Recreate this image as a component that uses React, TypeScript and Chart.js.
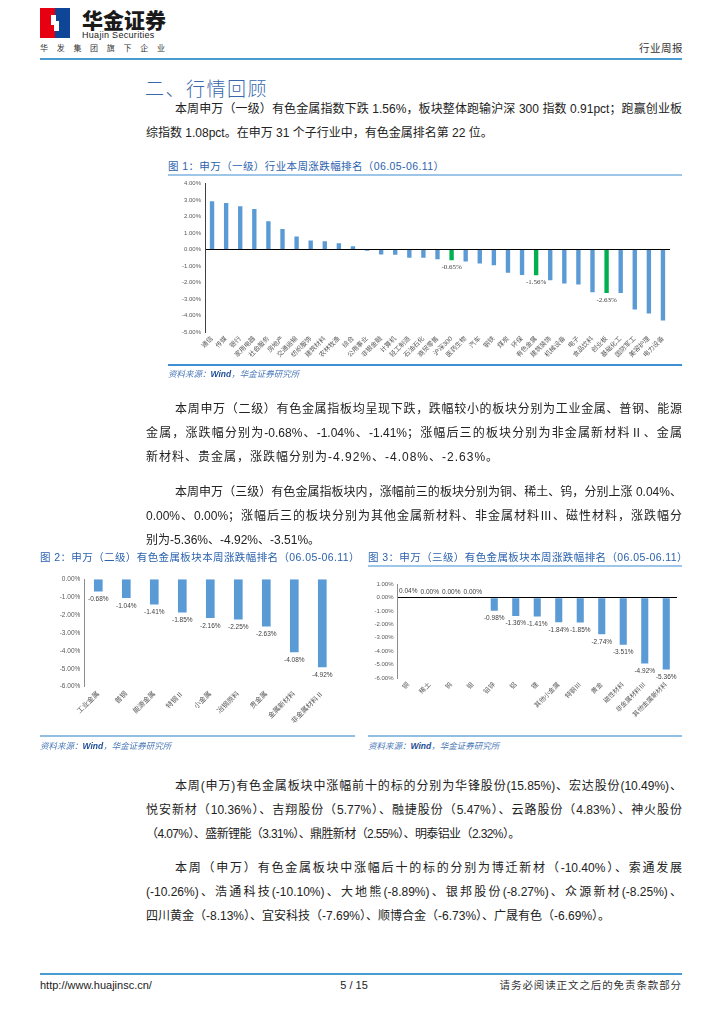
import React, { useEffect, useRef } from "react";
import { Chart, registerables } from "chart.js";

Chart.register(...registerables);

const SANS = '"Liberation Sans", Arial, "Noto Sans CJK SC", sans-serif';
const SERIF = '"Liberation Serif", "Noto Sans CJK SC", serif';

// ---------- Figure 1: 申万（一级）行业本周涨跌幅排名 ----------
const fig1Categories = [
  "通信", "传媒", "银行", "家用电器", "社会服务", "房地产", "交通运输", "纺织服饰",
  "建筑材料", "农林牧渔", "综合", "公用事业", "非银金融", "计算机", "轻工制造", "石油石化",
  "商贸零售", "沪深300", "医药生物", "汽车", "钢铁", "煤炭", "环保", "有色金属",
  "建筑装饰", "机械设备", "电子", "食品饮料", "创业板", "基础化工", "国防军工", "美容护理",
  "电力设备",
];
const fig1Values = [
  2.93, 2.83, 2.63, 2.46, 1.72, 1.25, 0.79, 0.55,
  0.5, 0.38, 0.2, -0.08, -0.3, -0.32, -0.5, -0.5,
  -0.59, -0.65, -0.73, -0.85, -0.95, -1.41, -1.55, -1.56,
  -1.86, -2.06, -2.12, -2.59, -2.63, -2.64, -3.64, -3.88,
  -4.3,
];
const fig1Highlighted = ["沪深300", "有色金属", "创业板"];
const fig1YMin = -5;
const fig1YMax = 4;

// ---------- Figure 2: 申万（二级）有色金属板块本周涨跌幅排名 ----------
const fig2Categories = [
  "工业金属", "普钢", "能源金属", "特钢Ⅱ", "小金属", "冶钢原料", "贵金属", "金属新材料", "非金属材料Ⅱ",
];
const fig2Values = [-0.68, -1.04, -1.41, -1.85, -2.16, -2.25, -2.63, -4.08, -4.92];
const fig2YMin = -6;
const fig2YMax = 0;

// ---------- Figure 3: 申万（三级）有色金属板块本周涨跌幅排名 ----------
const fig3Categories = [
  "铜", "稀土", "钨", "钼", "铅锌", "铝", "锂", "其他小金属", "特钢Ⅲ", "黄金", "磁性材料",
  "非金属材料Ⅲ", "其他金属新材料",
];
const fig3Values = [0.04, 0.0, 0.0, 0.0, -0.98, -1.36, -1.41, -1.84, -1.85, -2.74, -3.51, -4.92, -5.36];
const fig3YMin = -6;
const fig3YMax = 1;

const BLUE = "#5b9bd5";
const GREEN = "#00b050";

const pct = (v: number) => Number(v).toFixed(2) + "%";

type BarProps = {
  left: number;
  top: number;
  width: number;
  height: number;
  categories: string[];
  values: number[];
  colors: string[];
  yMin: number;
  yMax: number;
  yWidth: number;
  xHeight: number;
  padTop: number;
  padRight: number;
  barPct: number;
  yTickSize: number;
  xTickSize: number;
  axisColor: string;
  zeroLine: boolean;
  showLabel: (i: number) => boolean;
  labelFont: string;
  below: number;
  above: number;
};

function BarChart(p: BarProps) {
  const ref = useRef<HTMLCanvasElement | null>(null);
  useEffect(() => {
    if (!ref.current) return;
    const labelPlugin = {
      id: "valueLabels",
      afterDatasetsDraw(chart: any) {
        const ctx = chart.ctx;
        const meta = chart.getDatasetMeta(0);
        const data = chart.data.datasets[0].data as number[];
        ctx.save();
        ctx.font = p.labelFont;
        ctx.fillStyle = "#404040";
        ctx.textAlign = "center";
        ctx.textBaseline = "middle";
        meta.data.forEach((bar: any, i: number) => {
          if (!p.showLabel(i)) return;
          const v = data[i];
          const { x, y } = bar.getProps(["x", "y"], true);
          ctx.fillText(pct(v), x, v < 0 ? y + p.below : y - p.above);
        });
        ctx.restore();
      },
    };
    const chart = new Chart(ref.current, {
      type: "bar",
      data: {
        labels: p.categories,
        datasets: [
          {
            data: p.values,
            backgroundColor: p.colors,
            barPercentage: p.barPct,
            categoryPercentage: 1,
          },
        ],
      },
      options: {
        animation: false,
        responsive: true,
        maintainAspectRatio: false,
        layout: { padding: { top: p.padTop, right: p.padRight, left: 0, bottom: 0 } },
        plugins: { legend: { display: false }, tooltip: { enabled: false }, title: { display: false } },
        scales: {
          x: {
            ticks: {
              autoSkip: false,
              maxRotation: 45,
              minRotation: 45,
              font: { size: p.xTickSize, family: SANS },
              color: "#595959",
              padding: 3,
            },
            grid: { display: false, drawTicks: false },
            border: { display: false },
            afterFit: (s: any) => {
              s.height = p.xHeight;
            },
          },
          y: {
            min: p.yMin,
            max: p.yMax,
            ticks: {
              stepSize: 1,
              callback: (v: any) => pct(v),
              font: { size: p.yTickSize, family: SANS },
              color: "#595959",
              padding: 4,
            },
            grid: {
              display: p.zeroLine,
              drawTicks: false,
              lineWidth: 1,
              color: (c: any) => (c.tick && c.tick.value === 0 ? "#000000" : "rgba(0,0,0,0)"),
            },
            border: { display: true, color: p.axisColor, width: 1 },
            afterFit: (s: any) => {
              s.width = p.yWidth;
            },
          },
        },
      } as any,
      plugins: [labelPlugin],
    });
    return () => chart.destroy();
  }, []);
  return (
    <div style={{ position: "absolute", left: p.left, top: p.top, width: p.width, height: p.height }}>
      <canvas ref={ref} />
    </div>
  );
}

const abs = (left: number, top: number, extra: React.CSSProperties = {}): React.CSSProperties => ({
  position: "absolute",
  left,
  top,
  margin: 0,
  ...extra,
});

const bodyStyle: React.CSSProperties = {
  fontFamily: SANS,
  fontSize: 12,
  lineHeight: "24px",
  height: 24,
  color: "#222",
  whiteSpace: "normal",
};

function TextLine(props: { top: number; indent?: boolean; full?: boolean; ls?: number; children: React.ReactNode }) {
  const left = props.indent ? 175 : 146;
  const width = 682 - left;
  return (
    <div
      style={abs(left, props.top, {
        ...bodyStyle,
        width,
        textAlign: props.full ? "justify" : "left",
        textAlignLast: props.full ? "justify" : "left",
        letterSpacing: props.ls || 0,
      } as React.CSSProperties)}
    >
      {props.children}
    </div>
  );
}

const titleStyle: React.CSSProperties = {
  fontFamily: SANS,
  fontSize: 10.5,
  lineHeight: "14px",
  color: "#2b62ae",
  letterSpacing: 0.4,
  whiteSpace: "nowrap",
};

function Source(props: { left: number; top: number }) {
  return (
    <div
      style={abs(props.left, props.top, {
        fontFamily: SANS,
        fontSize: 8.5,
        lineHeight: "12px",
        fontStyle: "italic",
        color: "#4a78b8",
        whiteSpace: "nowrap",
      })}
    >
      资料来源：<span style={{ color: "#1f4e96", fontWeight: 600 }}>Wind</span>，华金证券研究所
    </div>
  );
}

export default function App() {
  const fig1Colors = fig1Categories.map((c) => (fig1Highlighted.includes(c) ? GREEN : BLUE));
  const fig2Colors = fig2Categories.map(() => BLUE);
  const fig3Colors = fig3Categories.map(() => BLUE);

  return (
    <div style={{ position: "absolute", left: 0, top: 0, width: 724, height: 1024, background: "#fff" }}>
      {/* Header */}
      <svg style={abs(40, 8)} width={30} height={30} viewBox="0 0 30 30">
        <rect x={0} y={0} width={15} height={30} fill="#e60012" />
        <rect x={15} y={0} width={15} height={30} fill="#0e4596" />
        <polygon points="11,7 16,7 16,13 19,13 19,23 14,23 14,17 11,17" fill="#ffffff" />
      </svg>
      <div
        style={abs(82, 6, {
          fontFamily: '"Noto Sans CJK SC", sans-serif',
          fontSize: 21,
          fontWeight: 900,
          lineHeight: "26px",
          color: "#1a1a1a",
          whiteSpace: "nowrap",
        })}
      >
        华金证券
      </div>
      <div
        style={abs(82, 30, {
          fontFamily: SANS,
          fontSize: 9,
          lineHeight: "10px",
          letterSpacing: 0.3,
          color: "#1a1a1a",
          whiteSpace: "nowrap",
        })}
      >
        Huajin Securities
      </div>
      <div
        style={abs(40, 42, {
          fontFamily: '"Noto Sans CJK SC", sans-serif',
          fontSize: 8,
          lineHeight: "12px",
          letterSpacing: 8.7,
          color: "#333",
          whiteSpace: "nowrap",
        })}
      >
        华发集团旗下企业
      </div>
      <div
        style={abs(639, 41, {
          fontFamily: '"Noto Sans CJK SC", sans-serif',
          fontSize: 10.5,
          lineHeight: "14px",
          letterSpacing: 0.5,
          color: "#333",
          whiteSpace: "nowrap",
        })}
      >
        行业周报
      </div>
      <div style={abs(40, 58, { width: 642, height: 2, background: "#4b9bd3" })} />

      {/* Section title */}
      <div
        style={abs(145, 76, {
          fontFamily: '"Noto Sans CJK SC", sans-serif',
          fontSize: 19,
          fontWeight: 300,
          lineHeight: "24px",
          letterSpacing: 1.5,
          color: "#3767ad",
          whiteSpace: "nowrap",
        })}
      >
        二、行情回顾
      </div>

      {/* Paragraph 1 */}
      <TextLine top={97} indent full>
        本周申万（一级）有色金属指数下跌 1.56%，板块整体跑输沪深 300 指数 0.91pct；跑赢创业板
      </TextLine>
      <TextLine top={121}>综指数 1.08pct。在申万 31 个子行业中，有色金属排名第 22 位。</TextLine>

      {/* Figure 1 */}
      <div style={abs(168, 159, titleStyle)}>图 1：申万（一级）行业本周涨跌幅排名（06.05-06.11）</div>
      <div style={abs(168, 174, { width: 514, height: 1.5, background: "#9dc6e8" })} />
      <BarChart
        left={168}
        top={176}
        width={514}
        height={190}
        categories={fig1Categories}
        values={fig1Values}
        colors={fig1Colors}
        yMin={fig1YMin}
        yMax={fig1YMax}
        yWidth={37}
        xHeight={34}
        padTop={5}
        padRight={12}
        barPct={0.31}
        yTickSize={6}
        xTickSize={6.5}
        axisColor="#404040"
        zeroLine={true}
        showLabel={(i) => fig1Highlighted.includes(fig1Categories[i])}
        labelFont={`7px ${SERIF}`}
        below={7}
        above={7}
      />
      <div style={abs(168, 364, { width: 514, height: 1.5, background: "#3f8fd5" })} />
      <Source left={168} top={368} />

      {/* Paragraph 2 */}
      <TextLine top={397} indent full>
        本周申万（二级）有色金属指板均呈现下跌，跌幅较小的板块分别为工业金属、普钢、能源
      </TextLine>
      <TextLine top={421} full>
        金属，涨跌幅分别为-0.68%、-1.04%、-1.41%；涨幅后三的板块分别为非金属新材料Ⅱ、金属
      </TextLine>
      <TextLine top={445} ls={1}>
        新材料、贵金属，涨跌幅分别为-4.92%、-4.08%、-2.63%。
      </TextLine>

      {/* Paragraph 3 */}
      <TextLine top={480} indent full>
        本周申万（三级）有色金属指板块内，涨幅前三的板块分别为铜、稀土、钨，分别上涨 0.04%、
      </TextLine>
      <TextLine top={504} full>
        0.00%、0.00%；涨幅后三的板块分别为其他金属新材料、非金属材料Ⅲ、磁性材料，涨跌幅分
      </TextLine>
      <TextLine top={528}>别为-5.36%、-4.92%、-3.51%。</TextLine>

      {/* Figure 2 */}
      <div style={abs(40, 550, titleStyle)}>图 2：申万（二级）有色金属板块本周涨跌幅排名（06.05-06.11）</div>
      <BarChart
        left={40}
        top={571}
        width={315}
        height={162}
        categories={fig2Categories}
        values={fig2Values}
        colors={fig2Colors}
        yMin={fig2YMin}
        yMax={fig2YMax}
        yWidth={44.3}
        xHeight={46.3}
        padTop={8.3}
        padRight={18.7}
        barPct={0.31}
        yTickSize={6.5}
        xTickSize={7}
        axisColor="#8c8c8c"
        zeroLine={false}
        showLabel={() => true}
        labelFont={`6.5px ${SANS}`}
        below={8}
        above={6}
      />
      <div style={abs(40, 735, { width: 315, height: 2, background: "#8fbfe3" })} />
      <Source left={40} top={740} />

      {/* Figure 3 */}
      <div style={abs(368, 550, titleStyle)}>图 3：申万（三级）有色金属板块本周涨跌幅排名（06.05-06.11）</div>
      <div style={abs(368, 565, { width: 314, height: 1.5, background: "#9dc6e8" })} />
      <BarChart
        left={368}
        top={571}
        width={314}
        height={162}
        categories={fig3Categories}
        values={fig3Values}
        colors={fig3Colors}
        yMin={fig3YMin}
        yMax={fig3YMax}
        yWidth={29.5}
        xHeight={55}
        padTop={13.3}
        padRight={5}
        barPct={0.33}
        yTickSize={6}
        xTickSize={6.5}
        axisColor="#8c8c8c"
        zeroLine={true}
        showLabel={() => true}
        labelFont={`6.5px ${SANS}`}
        below={7.5}
        above={5.5}
      />
      <div style={abs(368, 735, { width: 314, height: 2, background: "#8fbfe3" })} />
      <Source left={368} top={740} />

      {/* Paragraph 4 */}
      <TextLine top={774} indent full>
        本周(申万)有色金属板块中涨幅前十的标的分别为华锋股份(15.85%)、宏达股份(10.49%)、
      </TextLine>
      <TextLine top={798} full>
        悦安新材（10.36%）、吉翔股份（5.77%）、融捷股份（5.47%）、云路股份（4.83%）、神火股份
      </TextLine>
      <TextLine top={822} ls={-0.6}>
        （4.07%）、盛新锂能（3.31%）、鼎胜新材（2.55%）、明泰铝业（2.32%）。
      </TextLine>

      {/* Paragraph 5 */}
      <TextLine top={856} indent full>
        本周（申万）有色金属板块中涨幅后十的标的分别为博迁新材（-10.40%）、索通发展
      </TextLine>
      <TextLine top={880} full>
        (-10.26%)、浩通科技(-10.10%)、大地熊(-8.89%)、银邦股份(-8.27%)、众源新材(-8.25%)、
      </TextLine>
      <TextLine top={904}>
        四川黄金（-8.13%）、宜安科技（-7.69%）、顺博合金（-6.73%）、广晟有色（-6.69%）。
      </TextLine>

      {/* Footer */}
      <div style={abs(40, 973, { width: 642, height: 1.5, background: "#4b9bd3" })} />
      <div style={abs(40, 978, { fontFamily: SANS, fontSize: 11, lineHeight: "14px", color: "#222", whiteSpace: "nowrap" })}>
        http://www.huajinsc.cn/
      </div>
      <div
        style={abs(314, 978, {
          width: 80,
          textAlign: "center",
          fontFamily: SANS,
          fontSize: 11,
          lineHeight: "14px",
          color: "#222",
          whiteSpace: "nowrap",
        })}
      >
        5 / 15
      </div>
      <div
        style={abs(482, 978, {
          width: 200,
          textAlign: "right",
          fontFamily: '"Noto Sans CJK SC", sans-serif',
          fontSize: 10.5,
          lineHeight: "14px",
          letterSpacing: 0.9,
          color: "#333",
          whiteSpace: "nowrap",
        })}
      >
        请务必阅读正文之后的免责条款部分
      </div>
    </div>
  );
}
